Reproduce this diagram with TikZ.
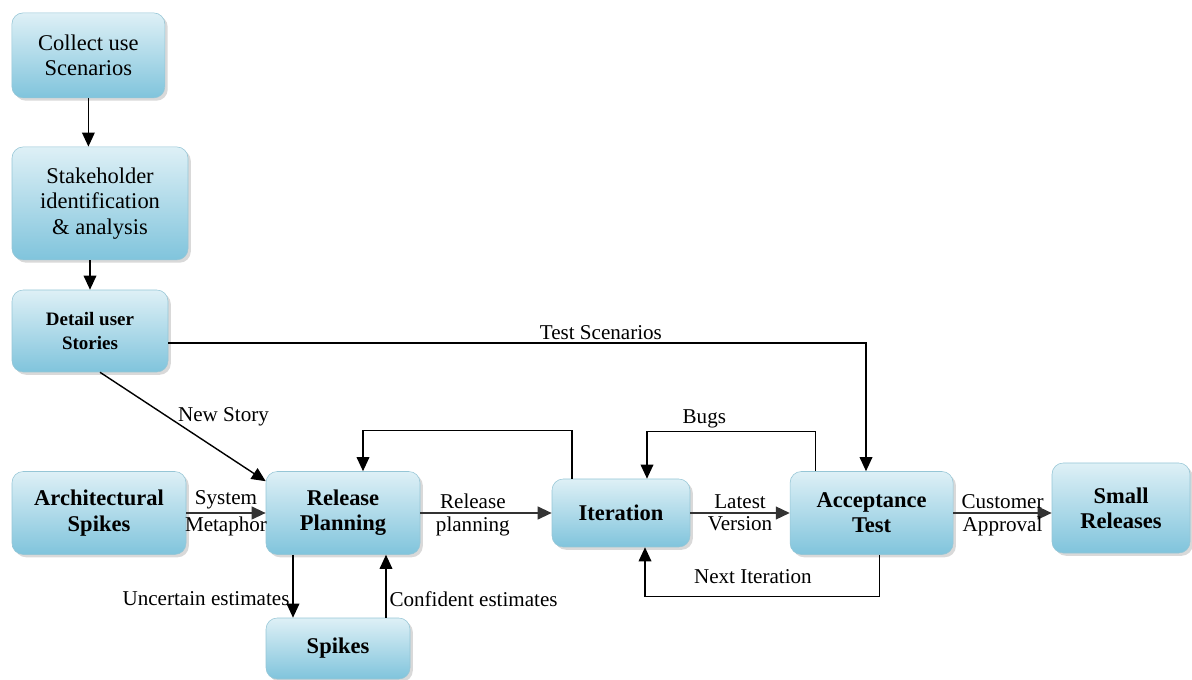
\documentclass[tikz,border=0pt]{standalone}
\usepackage{fontspec}
\setmainfont{Liberation Serif}
\usetikzlibrary{arrows.meta,shadows}
\definecolor{boxtop}{RGB}{222,240,246}
\definecolor{boxbot}{RGB}{128,196,220}
\definecolor{boxedge}{RGB}{150,198,214}

\begin{document}
\begin{tikzpicture}[
      font=\fontsize{15}{18}\selectfont,
      box/.style={draw=boxedge, rounded corners=8pt, align=center,
        top color=boxtop, bottom color=boxbot, inner sep=3pt,
        font=\fontsize{16}{18}\selectfont,
        drop shadow={shadow xshift=2pt, shadow yshift=-2pt, opacity=0.3}},
      bbox/.style={box, font=\fontsize{16}{18}\selectfont\bfseries},
      arr/.style={-{Triangle[length=10pt, width=9pt]}, line width=1pt},
      flow/.style={arr, line width=1.6pt, black!80},
      lbl/.style={inner sep=2pt, text=black}
    ]
    \useasboundingbox (0,0) rectangle (29.8,16.975);

    \node[box, minimum width=3.825cm, minimum height=2.125cm] (col) at (2.21,15.59) {Collect use\\Scenarios};
    \node[box, minimum width=4.4cm, minimum height=2.825cm] (stk) at (2.5,11.89) {Stakeholder\\identification\\\& analysis};
    \node[bbox, minimum width=3.9cm, minimum height=2.05cm, font=\fontsize{13.5}{17}\selectfont\bfseries] (det) at (2.25,8.7) {Detail user\\Stories};
    \node[bbox, minimum width=4.35cm, minimum height=2.075cm] (arch) at (2.475,4.15) {Architectural\\Spikes};
    \node[bbox, minimum width=3.85cm, minimum height=2.075cm] (rel) at (8.575,4.15) {Release\\Planning};
    \node[bbox, minimum width=3.6cm, minimum height=1.525cm] (spk) at (8.45,0.7625) {Spikes};
    \node[bbox, minimum width=3.45cm, minimum height=1.7cm] (iter) at (15.525,4.15) {Iteration};
    \node[bbox, minimum width=4.075cm, minimum height=2.075cm] (acc) at (21.79,4.15) {Acceptance\\Test};
    \node[bbox, minimum width=3.45cm, minimum height=2.25cm] (sml) at (28.025,4.275) {Small\\Releases};

    \draw[arr] (col.south) -- (col.south |- stk.north);
    \draw[arr] (det.north |- stk.south) -- (det.north);
    \draw[arr] ([yshift=-0.3cm]det.east) -| node[lbl, above, pos=0.31] {Test Scenarios} ([xshift=-0.14cm]acc.north);
    \draw[arr] ([xshift=0.25cm]det.south) -- node[lbl, right, pos=0.45, yshift=3pt] {New Story} ([yshift=-0.25cm]rel.north west);

    \draw[flow] (arch) -- node[lbl, above] {System} node[lbl, below] {Metaphor} (rel);
    \draw[flow] (rel) -- node[lbl, above, pos=0.4] {Release} node[lbl, below, pos=0.4] {planning} (iter);
    \draw[flow] (iter) -- node[lbl, above] {Latest} node[lbl, below] {Version} (acc);
    \draw[flow] (acc) -- node[lbl, above] {Customer} node[lbl, below] {Approval} (acc -| sml.west);

    \draw[arr] ([xshift=-1.225cm]iter.north) -- ++(0,1.2) -| ([xshift=0.5cm]rel.north);
    \draw[arr] ([xshift=-1.4cm]acc.north) -- ++(0,1.0) -| node[lbl, above, pos=0.33] {Bugs} ([xshift=0.65cm]iter.north);
    \draw[arr] ([xshift=0.2cm]acc.south) -- ++(0,-1.05) -| node[lbl, above, pos=0.27, yshift=7pt] {Next Iteration} ([xshift=0.6cm]iter.south);

    \draw[arr] ([xshift=-1.25cm]rel.south) -- node[lbl, left, pos=0.7] {Uncertain estimates} ([xshift=-1.25cm]rel.south |- spk.north);
    \draw[arr] ([xshift=1.075cm]rel.south |- spk.north) -- node[lbl, right, pos=0.3] {Confident estimates} ([xshift=1.075cm]rel.south);
  \end{tikzpicture}
\end{document}
